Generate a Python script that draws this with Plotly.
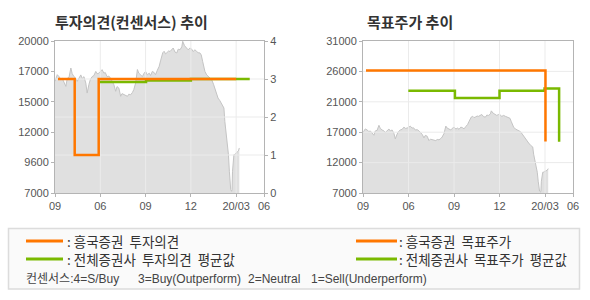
import plotly.graph_objects as go

W, H = 590, 300

# ---------------- data ----------------
tick_pos = [0, 1, 2, 3, 4, 4.615]
tick_text = ["09", "06", "09", "12", "20/03", "06"]

price_x = [0.00, 0.05, 0.09, 0.13, 0.16, 0.20, 0.24, 0.27, 0.31, 0.35, 0.38, 0.42, 0.46, 0.49,
           0.53, 0.57, 0.60, 0.64, 0.68, 0.71, 0.75, 0.78, 0.82, 0.86, 0.90, 0.93, 0.97, 1.00,
           1.04, 1.08, 1.11, 1.15, 1.19, 1.23, 1.26, 1.30, 1.34, 1.37, 1.41, 1.45, 1.48, 1.52,
           1.56, 1.60, 1.63, 1.67, 1.71, 1.74, 1.78, 1.82, 1.85, 1.89, 1.93, 1.96, 2.00, 2.04,
           2.08, 2.11, 2.15, 2.19, 2.22, 2.26, 2.30, 2.33, 2.35, 2.38, 2.41, 2.44, 2.47, 2.51,
           2.54, 2.58, 2.61, 2.65, 2.69, 2.72, 2.76, 2.80, 2.82, 2.86, 2.91, 2.94, 2.98, 3.02,
           3.05, 3.09, 3.13, 3.16, 3.20, 3.23, 3.26, 3.29, 3.31, 3.35, 3.38, 3.42, 3.46, 3.50,
           3.53, 3.57, 3.60, 3.64, 3.68, 3.71, 3.73, 3.75, 3.77, 3.79, 3.81, 3.83, 3.85, 3.87,
           3.88, 3.90, 3.91, 3.92, 3.93, 3.95, 3.97, 4.00, 4.02, 4.05, 4.07]
price_v = [16550, 17120, 16950, 16700, 16800, 16500, 16120, 16800, 16900, 17690, 17200, 16950, 16800, 16550,
           16900, 17100, 16800, 16950, 16400, 15550, 16300, 16700, 16950, 17050, 17400, 17200, 17250, 17400,
           17550, 17250, 17300, 16950, 17000, 16800, 16600, 16260, 15700, 16100, 15970, 15270, 15500, 15400,
           15300, 15270, 15450, 15400, 15600, 15840, 16400, 17560, 17250, 17100, 16950, 17200, 17400, 17100,
           17250, 17050, 17400, 17300, 17120, 17500, 17830, 18300, 18690, 19000, 19120, 18900, 19000, 19150,
           19100, 19300, 19400, 19050, 18980, 19300, 19250, 19500, 19970, 19600, 19400, 19250, 19400, 19300,
           19100, 19250, 19100, 19000, 18980, 18800, 18260, 17800, 17400, 17100, 16980, 16850, 16690, 16300,
           15980, 15600, 15120, 14900, 14550, 14400, 14270, 13130, 12400, 11700, 11000, 10280, 8860, 7900,
           7290, 7150, 7300, 8860, 9600, 10280, 10300, 10400, 10500, 10600, 10850]

# investment opinion (right axis of left chart, 4=S/Buy ... 1=Sell)
hk_op_x = [0.066, 0.435, 0.435, 0.965, 0.965, 4.00]
hk_op_v = [3.0, 3.0, 1.0, 1.0, 3.0, 3.0]
avg_op_x = [0.98, 2.01, 2.01, 3.00, 3.00, 4.30]
avg_op_v = [2.92, 2.92, 2.96, 2.96, 3.00, 3.00]

# target price
hk_tp_x = [0.066, 4.01, 4.01]
hk_tp_v = [26350, 26350, 15150]
avg_tp_x = [0.996, 2.02, 2.02, 3.00, 3.00, 3.99, 3.99, 4.31, 4.31]
avg_tp_v = [23150, 23150, 22000, 22000, 23150, 23150, 23500, 23500, 15100]

left_ticks = [7000, 9600, 12200, 14800, 17400, 20000]
left_text = ["7000", "9600", "12000", "15000", "17000", "20000"]
op_ticks = [0, 1, 2, 3, 4]
tp_ticks = [7000, 11800, 16600, 21400, 26200, 31000]
tp_text = ["7000", "12000", "17000", "21000", "26000", "31000"]

ORANGE = "#ff7700"
GREEN = "#7ab900"
FILL = "#e0e0e0"
PLINE = "#c4c4c4"
GRID = "#ebebeb"
AXC = "#b4b4b4"
TXT = "#555555"
FONT = "Noto Sans CJK KR"
LFONT = "Liberation Sans, Noto Sans CJK KR"
NB = "\u00a0"

fig = go.Figure()

def grid_trace(xs, ys, xa, ya):
    fig.add_trace(go.Scatter(x=xs, y=ys, mode="lines", xaxis=xa, yaxis=ya,
                             line=dict(color=GRID, width=1), hoverinfo="skip", showlegend=False))

def vgrid(xa, ya, lo, hi):
    xs, ys = [], []
    for t in tick_pos[1:-1]:
        xs += [t, t, None]
        ys += [lo, hi, None]
    grid_trace(xs, ys, xa, ya)

def hgrid(xa, ya, vals):
    xs, ys = [], []
    for v in vals:
        xs += [tick_pos[0], tick_pos[-1], None]
        ys += [v, v, None]
    grid_trace(xs, ys, xa, ya)

# ---- left chart ----
fig.add_trace(go.Scatter(x=price_x, y=price_v, mode="lines", fill="tozeroy", fillcolor=FILL,
                         line=dict(color=PLINE, width=1), xaxis="x", yaxis="y", showlegend=False))
vgrid("x", "y", left_ticks[0], left_ticks[-1])
hgrid("x", "y2", op_ticks[1:-1])
fig.add_trace(go.Scatter(x=avg_op_x, y=avg_op_v, mode="lines", line=dict(color=GREEN, width=2.5),
                         xaxis="x", yaxis="y2", showlegend=False))
fig.add_trace(go.Scatter(x=hk_op_x, y=hk_op_v, mode="lines", line=dict(color=ORANGE, width=2.5),
                         xaxis="x", yaxis="y2", showlegend=False))

# ---- right chart ----
fig.add_trace(go.Scatter(x=price_x, y=price_v, mode="lines", fill="tozeroy", fillcolor=FILL,
                         line=dict(color=PLINE, width=1), xaxis="x2", yaxis="y3", showlegend=False))
vgrid("x2", "y3", tp_ticks[0], tp_ticks[-1])
hgrid("x2", "y3", tp_ticks[1:-1])
fig.add_trace(go.Scatter(x=avg_tp_x, y=avg_tp_v, mode="lines", line=dict(color=GREEN, width=2.5),
                         xaxis="x2", yaxis="y3", showlegend=False))
fig.add_trace(go.Scatter(x=hk_tp_x, y=hk_tp_v, mode="lines", line=dict(color=ORANGE, width=2.5),
                         xaxis="x2", yaxis="y3", showlegend=False))

ydom = [1 - 193 / H, 1 - 41 / H]
common_ax = dict(showgrid=False, zeroline=False, showline=True, linecolor=AXC, linewidth=1,
                 ticks="outside", ticklen=3, tickcolor=AXC, automargin=False,
                 tickfont=dict(family="Liberation Sans", size=11, color=TXT), fixedrange=True)

fig.update_layout(
    width=W, height=H, margin=dict(l=0, r=0, t=0, b=0, pad=0, autoexpand=False),
    paper_bgcolor="white", plot_bgcolor="white", showlegend=False,
    xaxis=dict(domain=[55 / W, 264 / W], range=[tick_pos[0], tick_pos[-1]], tickvals=tick_pos,
               ticktext=tick_text, mirror=True, anchor="y", **common_ax),
    yaxis=dict(domain=ydom, range=[left_ticks[0], left_ticks[-1]], tickvals=left_ticks,
               ticktext=left_text, mirror=True, anchor="x", **common_ax),
    yaxis2=dict(overlaying="y", side="right", range=[0, 4], tickvals=op_ticks, anchor="x",
                **{**common_ax, "showline": False}),
    xaxis2=dict(domain=[363 / W, 573 / W], range=[tick_pos[0], tick_pos[-1]], tickvals=tick_pos,
                ticktext=tick_text, mirror=True, anchor="y3", **common_ax),
    yaxis3=dict(domain=ydom, range=[tp_ticks[0], tp_ticks[-1]], tickvals=tp_ticks,
                ticktext=tp_text, mirror=True, anchor="x2", **common_ax),
)

def ann(text, px, py, size=13.5, color="#333333", bold=False, family=FONT):
    fig.add_annotation(xref="paper", yref="paper", x=px / W, y=1 - py / H,
                       text=(f"<b>{text}</b>" if bold else text),
                       showarrow=False, xanchor="left", yanchor="middle", borderpad=0,
                       font=dict(family=family, size=size, color=color))

ann("투자의견(컨센서스)" + NB + "추이", 54, 21.5, size=15, bold=True)
ann("목표주가" + NB + "추이", 366, 21.5, size=15, bold=True)

# legend box
fig.add_shape(type="rect", xref="paper", yref="paper", x0=8.5 / W, x1=579.5 / W,
              y0=1 - 289 / H, y1=1 - 228.5 / H, line=dict(color="#dcdcdc", width=1.5),
              fillcolor="#fafafa", layer="below")

def key(px0, px1, py, color):
    fig.add_shape(type="line", xref="paper", yref="paper", x0=px0 / W, x1=px1 / W,
                  y0=1 - py / H, y1=1 - py / H, line=dict(color=color, width=3))

key(26, 63, 241, ORANGE)
key(26, 63, 259, GREEN)
key(356, 397, 241, ORANGE)
key(356, 397, 259, GREEN)
sp = NB * 2
ann(":" + NB + "흥국증권" + sp + "투자의견", 66, 241)
ann(":" + NB + "전체증권사" + sp + "투자의견" + sp + "평균값", 66, 259)
ann(":" + NB + "흥국증권" + sp + "목표주가", 398, 241)
ann(":" + NB + "전체증권사" + sp + "목표주가" + sp + "평균값", 398, 259)
ann("컨센서스:4=S/Buy", 25, 278.5, size=12, color="#444444", family=LFONT)
ann("3=Buy(Outperform)", 136.5, 278.5, size=12, color="#444444", family=LFONT)
ann("2=Neutral", 246.5, 278.5, size=12, color="#444444", family=LFONT)
ann("1=Sell(Underperform)", 309.5, 278.5, size=12, color="#444444", family=LFONT)

fig.write_html("out.html")
